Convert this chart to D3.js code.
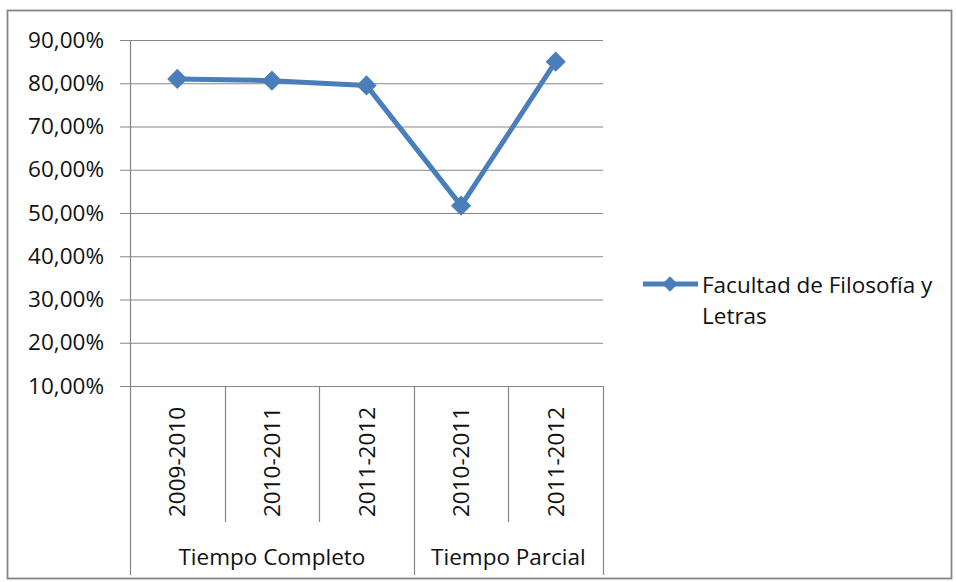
<!DOCTYPE html>
<html>
<head>
<meta charset="utf-8">
<script src="https://cdn.jsdelivr.net/npm/d3@7"></script>
<style>
  body { margin: 0; background: #fff; }
  text { font-family: "Open Sans", "Noto Sans", sans-serif; fill: #111; }
</style>
</head>
<body>
<div id="chart"></div>
<script>
// data
var years = ['2009-2010', '2010-2011', '2011-2012', '2010-2011', '2011-2012'];
var groups = ['Tiempo Completo', 'Tiempo Parcial'];
var groupSize = [3, 2];
var values = [0.810, 0.806, 0.795, 0.517, 0.850];
var yTicks = [0.1, 0.2, 0.3, 0.4, 0.5, 0.6, 0.7, 0.8, 0.9];
var seriesName = ['Facultad de Filosofía y', 'Letras'];

(function () {
  var W = 956, H = 582;
  var left = 130, right = 603, top = 40, bottom = 386;
  var blue = '#4A7EBB', grid = '#868686';
  var fs = 22.5;

  var svg = d3.select('#chart').append('svg')
    .attr('width', W).attr('height', H);

  // outer frame
  svg.append('rect')
    .attr('x', 7.5).attr('y', 10.5)
    .attr('width', 944).attr('height', 568)
    .attr('fill', 'none').attr('stroke', grid).attr('stroke-width', 1.8);

  var x = d3.scaleBand()
    .domain(d3.range(values.length))
    .range([left, right]);

  var y = d3.scaleLinear()
    .domain([0.1, 0.9])
    .range([bottom, top]);

  var fmt = function (d) { return d3.format('.2f')(d * 100).replace('.', ',') + '%'; };

  // gridlines + y labels
  var yAxis = d3.axisLeft(y).tickValues(yTicks).tickFormat(fmt)
    .tickSize(-(right - left)).tickPadding(26);
  var gy = svg.append('g').attr('transform', 'translate(' + left + ',0)').call(yAxis);
  gy.select('.domain').remove();
  gy.selectAll('.tick line').attr('x1', -10).attr('stroke', grid).attr('stroke-width', 1.2);
  gy.selectAll('.tick text').attr('font-size', fs).style('fill', '#111')
    .attr('font-family', '"Open Sans", sans-serif');

  // y axis line
  svg.append('line')
    .attr('x1', left + 0.5).attr('x2', left + 0.5)
    .attr('y1', top).attr('y2', bottom)
    .attr('stroke', grid).attr('stroke-width', 1.2);

  // category separators
  var bounds = d3.range(values.length + 1).map(function (i) {
    return i < values.length ? x(i) : x(i - 1) + x.bandwidth();
  });
  var groupEdges = [0];
  groupSize.forEach(function (n, i) { groupEdges.push(groupEdges[i] + n); });

  bounds.forEach(function (bx, i) {
    var isGroup = groupEdges.indexOf(i) >= 0;
    svg.append('line')
      .attr('x1', Math.round(bx) + 0.5).attr('x2', Math.round(bx) + 0.5)
      .attr('y1', bottom).attr('y2', isGroup ? 575 : 522)
      .attr('stroke', grid).attr('stroke-width', 1.2);
  });

  // year labels, rotated
  svg.selectAll('.yr').data(years).enter().append('text')
    .attr('class', 'yr')
    .attr('transform', function (d, i) {
      return 'translate(' + (x(i) + x.bandwidth() / 2 + 8) + ',462) rotate(-90)';
    })
    .attr('text-anchor', 'middle')
    .attr('font-size', fs)
    .text(function (d) { return d; });

  // group labels
  svg.selectAll('.grp').data(groups).enter().append('text')
    .attr('class', 'grp')
    .attr('x', function (d, i) {
      var a = bounds[groupEdges[i]], b = bounds[groupEdges[i + 1]];
      return (a + b) / 2;
    })
    .attr('y', 565)
    .attr('text-anchor', 'middle')
    .attr('font-size', fs)
    .text(function (d) { return d; });

  // series line
  var line = d3.line()
    .x(function (d, i) { return x(i) + x.bandwidth() / 2; })
    .y(function (d) { return y(d); });

  svg.append('path').datum(values)
    .attr('d', line)
    .attr('fill', 'none').attr('stroke', blue).attr('stroke-width', 5)
    .attr('stroke-linejoin', 'round');

  var diamond = d3.symbol().type(d3.symbolDiamond2).size(260);
  svg.selectAll('.pt').data(values).enter().append('path')
    .attr('class', 'pt')
    .attr('d', diamond)
    .attr('transform', function (d, i) {
      return 'translate(' + (x(i) + x.bandwidth() / 2) + ',' + y(d) + ')';
    })
    .attr('fill', blue);

  // legend
  var lg = svg.append('g').attr('transform', 'translate(643,284)');
  lg.append('line').attr('x1', 0).attr('x2', 55).attr('y1', 0).attr('y2', 0)
    .attr('stroke', blue).attr('stroke-width', 5);
  lg.append('path').attr('d', d3.symbol().type(d3.symbolDiamond2).size(150))
    .attr('transform', 'translate(27,0)').attr('fill', blue);
  lg.selectAll('text').data(seriesName).enter().append('text')
    .attr('x', 59).attr('y', function (d, i) { return 9 + i * 31; })
    .attr('font-size', fs)
    .text(function (d) { return d; });
})();
</script>
</body>
</html>
